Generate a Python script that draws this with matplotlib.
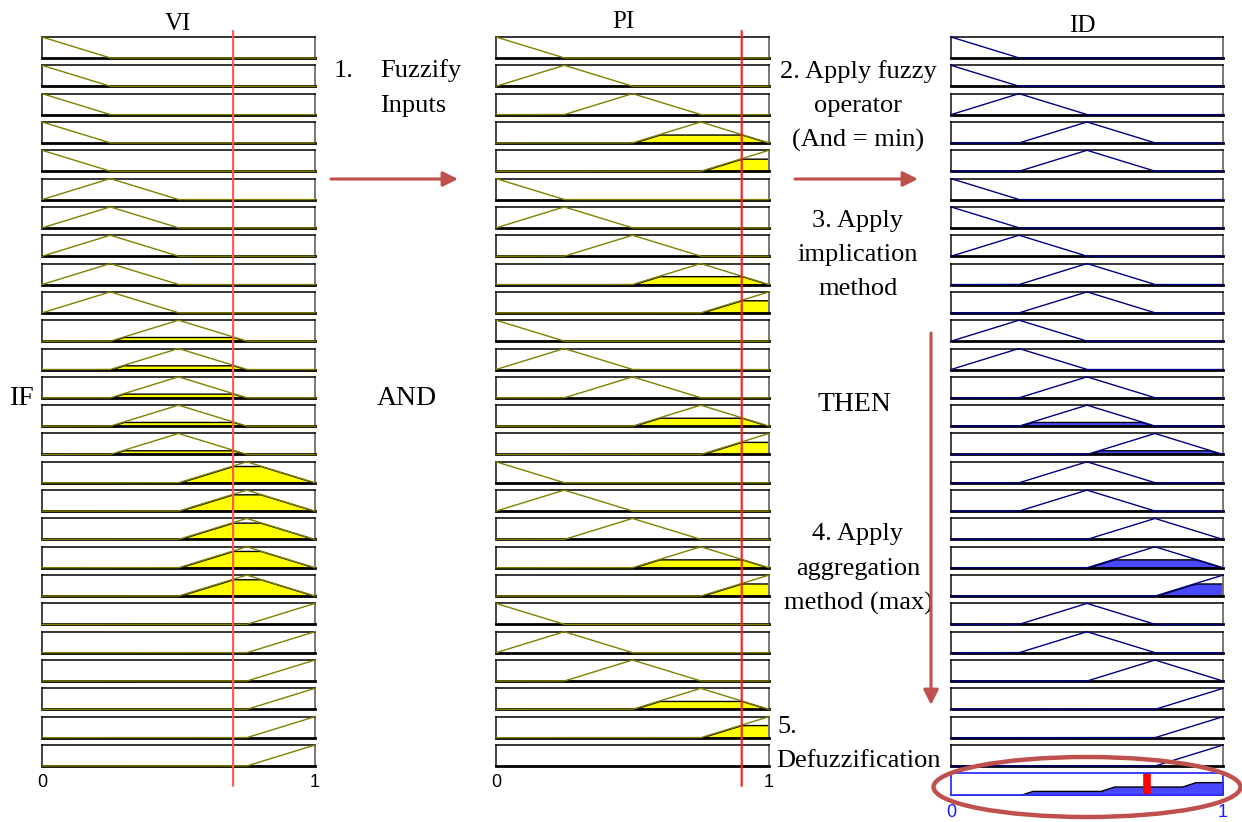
import numpy as np
import matplotlib.pyplot as plt
from matplotlib.patches import ConnectionPatch, Ellipse

# peak of the triangular MF shown in each rule row (None = no MF in that row)
vi_peak = [0, 0, 0, 0, 0,
           0.25, 0.25, 0.25, 0.25, 0.25,
           0.5, 0.5, 0.5, 0.5, 0.5,
           0.75, 0.75, 0.75, 0.75, 0.75,
           1, 1, 1, 1, 1, 1]
pi_peak = [0, 0.25, 0.5, 0.75, 1,
           0, 0.25, 0.5, 0.75, 1,
           0, 0.25, 0.5, 0.75, 1,
           0, 0.25, 0.5, 0.75, 1,
           0, 0.25, 0.5, 0.75, 1, None]
id_peak = [0, 0, 0.25, 0.5, 0.5,
           0, 0, 0.25, 0.5, 0.5,
           0.25, 0.25, 0.5, 0.5, 0.75,
           0.5, 0.5, 0.75, 0.75, 1,
           0.5, 0.5, 0.75, 1, 1, 1]

# fill heights
vi_fire = [0, 0, 0, 0, 0, 0, 0, 0, 0, 0,
           0.2, 0.2, 0.2, 0.2, 0.2,
           0.8, 0.8, 0.8, 0.8, 0.8,
           0, 0, 0, 0, 0, 0]
pi_fire = [0, 0, 0, 0.4, 0.6,
           0, 0, 0, 0.4, 0.6,
           0, 0, 0, 0.4, 0.6,
           0, 0, 0, 0.4, 0.6,
           0, 0, 0, 0.4, 0.6, 0]
id_fire = [0, 0, 0, 0, 0, 0, 0, 0, 0, 0,
           0, 0, 0, 0.2, 0.2,
           0, 0, 0, 0.4, 0.6,
           0, 0, 0, 0, 0, 0]

vi_input = 0.7
pi_input = 0.9
id_output = 0.72
mf_width = 0.25

W, H = 1242, 822
xs = np.linspace(0, 1, 801)


def tri(x, c):
    return np.clip(1 - np.abs(x - c) / mf_width, 0, None)


def px_axes(left, top, width, height):
    return fig.add_axes([left / W, 1 - (top + height) / H, width / W, height / H])


def style_box(ax, color=None):
    ax.set_xlim(0, 1)
    ax.set_ylim(0, 1)
    ax.set_xticks([])
    ax.set_yticks([])
    if color is None:
        ax.spines['top'].set_color('black')
        ax.spines['left'].set_color('#444444')
        ax.spines['right'].set_color('#777777')
        ax.spines['bottom'].set_color('black')
        ax.spines['top'].set_linewidth(1.1)
        ax.spines['left'].set_linewidth(1.4)
        ax.spines['right'].set_linewidth(1.4)
        ax.spines['bottom'].set_linewidth(2.0)
    else:
        for s in ax.spines.values():
            s.set_color(color)
            s.set_linewidth(1.3)


def draw_cell(ax, peak, level, line_c, fill_c):
    if peak is None:
        return
    mu = tri(xs, peak)
    if level > 0:
        ax.fill_between(xs, 0, np.minimum(mu, level), facecolor=fill_c,
                        edgecolor='black', linewidth=1.0, zorder=2)
    ax.plot(xs, mu, color=line_c, lw=1.0, clip_on=False, zorder=3)


fig = plt.figure(figsize=(W / 100, H / 100), dpi=100)

top0, step, rh = 37, 28.32, 21
cols = [(42, 273), (496, 273), (951, 272)]
peaks = [vi_peak, pi_peak, id_peak]
fires = [vi_fire, pi_fire, id_fire]
line_cols = ['#808000', '#808000', '#000080']
fill_cols = ['#ffff00', '#ffff00', '#4848ff']

n = len(vi_peak)
axes = [[], [], []]
for c in range(3):
    for i in range(n):
        ax = px_axes(cols[c][0], top0 + step * i, cols[c][1], rh)
        style_box(ax)
        draw_cell(ax, peaks[c][i], fires[c][i], line_cols[c], fill_cols[c])
        axes[c].append(ax)

# tick labels 0 / 1 under the input columns
for c in range(2):
    ax = axes[c][-1]
    ax.set_xticks([0, 1])
    ax.set_xticklabels(['0', '1'], family='Liberation Sans', fontsize=13)
    ax.tick_params(length=0, pad=6)

# aggregated output row
agg_ax = px_axes(cols[2][0], top0 + step * n, cols[2][1], rh + 1)
style_box(agg_ax, color='#3030ff')
agg = np.zeros_like(xs)
for p, f in zip(id_peak, id_fire):
    agg = np.maximum(agg, np.minimum(tri(xs, p), f))
agg_ax.fill_between(xs, 0, agg, facecolor='#4848ff', edgecolor='black', linewidth=1.0)
agg_ax.axvline(id_output, ymin=0, ymax=1, color='red', lw=5.5)
agg_ax.set_xticks([0, 1])
agg_ax.set_xticklabels(['0', '1'], family='Liberation Sans', fontsize=13, color='#1a1aff')
agg_ax.tick_params(length=0, pad=6)

# red input lines running through all rows
for c, val, col in [(0, vi_input, '#ff5555'), (1, pi_input, '#ff1a1a')]:
    con = ConnectionPatch(xyA=(val, 1.29), coordsA=axes[c][0].get_xaxis_transform(),
                          xyB=(val, -0.95), coordsB=axes[c][-1].get_xaxis_transform(),
                          color=col, lw=1.5, zorder=5)
    fig.add_artist(con)

# overlay for annotations
ov = fig.add_axes([0, 0, 1, 1], zorder=10)
ov.set_xlim(0, W)
ov.set_ylim(H, 0)
ov.axis('off')
ov.patch.set_alpha(0)

serif = 'Liberation Serif'
fs = 19
ov.text(178, 30, 'VI', family=serif, fontsize=18, ha='center', va='baseline')
ov.text(623, 28, 'PI', family=serif, fontsize=18, ha='center', va='baseline')
ov.text(1082, 32, 'ID', family=serif, fontsize=18, ha='center', va='baseline')

ov.text(334, 77, '1.', family=serif, fontsize=fs, ha='left', va='baseline')
ov.text(380, 77, 'Fuzzify', family=serif, fontsize=fs, ha='left', va='baseline')
ov.text(380, 112, 'Inputs', family=serif, fontsize=fs, ha='left', va='baseline')

for txt, yb in [('2. Apply fuzzy', 78), ('operator', 112), ('(And = min)', 147),
                ('3. Apply', 227), ('implication', 261), ('method', 295),
                ('4. Apply', 540), ('aggregation', 575), ('method (max)', 610)]:
    ov.text(858, yb, txt, family=serif, fontsize=fs, ha='center', va='baseline')

ov.text(777, 733, '5.', family=serif, fontsize=fs, ha='left', va='baseline')
ov.text(776, 767, 'Defuzzification', family=serif, fontsize=fs, ha='left', va='baseline')

ov.text(10, 405, 'IF', family=serif, fontsize=20, ha='left', va='baseline')
ov.text(377, 405, 'AND', family=serif, fontsize=20, ha='left', va='baseline')
ov.text(817, 411, 'THEN', family=serif, fontsize=20, ha='left', va='baseline')

arrow_c = '#c0504d'
akw = dict(arrowstyle='-|>,head_length=0.9,head_width=0.45', color=arrow_c, lw=2.2,
           shrinkA=0, shrinkB=0)
ov.annotate('', xy=(458, 179), xytext=(331, 179), arrowprops=akw)
ov.annotate('', xy=(918, 179), xytext=(795, 179), arrowprops=akw)
ov.annotate('', xy=(931, 705), xytext=(931, 333), arrowprops=akw)

ov.add_patch(Ellipse((1087, 787), 307, 60, fill=False, edgecolor=arrow_c, lw=3.2))

plt.savefig('out.png', dpi=100)
